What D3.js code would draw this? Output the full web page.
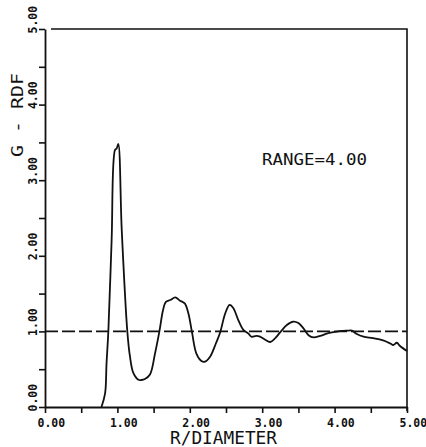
<!DOCTYPE html>
<html lang="en">
<head>
<meta charset="UTF-8">
<title>G - RDF</title>
<script src="https://d3js.org/d3.v7.min.js"></script>
<style>
  body { margin: 0; background: #fff; }
  text { font-family: "DejaVu Sans Mono", monospace; font-weight: bold; fill: #111; }
</style>
</head>
<body>
<div id="chart"></div>
<script>
// radial distribution function
const rValues = [0.78, 0.83, 0.85, 0.875, 0.92, 0.967, 0.99, 1.012, 1.06, 1.137, 1.174, 1.22, 1.29, 1.33, 1.38, 1.45,
  1.52, 1.58, 1.63, 1.67, 1.73, 1.80, 1.86, 1.93, 1.98, 2.03, 2.09, 2.16, 2.21, 2.28, 2.36, 2.42, 2.49, 2.55, 2.60,
  2.67, 2.74, 2.81, 2.85, 2.92, 2.97, 3.04, 3.11, 3.18, 3.25, 3.34, 3.43, 3.50, 3.57, 3.64, 3.71, 3.80, 3.89, 3.98,
  4.07, 4.17, 4.24, 4.30, 4.40, 4.53, 4.67, 4.77, 4.81, 4.86, 4.90, 5.00];
const gValues = [0.00, 0.18, 0.58, 1.00, 2.20, 3.40, 3.42, 3.48, 2.34, 1.00, 0.665, 0.45, 0.36, 0.357, 0.37, 0.43,
  0.71, 1.00, 1.28, 1.39, 1.415, 1.45, 1.41, 1.37, 1.24, 0.99, 0.71, 0.61, 0.60, 0.665, 0.84, 0.99, 1.24, 1.35, 1.31,
  1.15, 1.02, 0.97, 0.93, 0.94, 0.93, 0.89, 0.86, 0.91, 0.99, 1.085, 1.13, 1.11, 1.04, 0.95, 0.92, 0.94, 0.97, 0.99,
  1.005, 1.01, 1.01, 0.97, 0.93, 0.91, 0.88, 0.84, 0.82, 0.85, 0.81, 0.74];
const xTicks = [0, 0.5, 1, 1.5, 2, 2.5, 3, 3.5, 4, 4.5, 5];
const yTicks = [0, 0.5, 1, 1.5, 2, 2.5, 3, 3.5, 4, 4.5, 5];
const xTitle = "R/DIAMETER";
const yTitle = "G - RDF";
const note = "RANGE=4.00";
const reference = 1.0;

const W = 426, H = 447;
const svg = d3.select("#chart").append("svg")
  .attr("width", W).attr("height", H);

const x = d3.scaleLinear().domain([0, 5]).range([45, 407]);
const y = d3.scaleLinear().domain([0, 5]).range([407, 29]);

// frame (top and right)
svg.append("path")
  .attr("d", `M${x(0) + 6},${y(5)} H${x(5)} V${y(0) + 4}`)
  .attr("fill", "none").attr("stroke", "#111").attr("stroke-width", 1.6);

// x axis
const xAxis = svg.append("g")
  .attr("transform", `translate(0,${y(0)})`)
  .call(d3.axisBottom(x).tickValues(xTicks).tickSize(6).tickSizeOuter(0)
    .tickFormat(d => Number.isInteger(d) ? d.toFixed(2) : ""));
xAxis.select(".domain").attr("stroke", "#111").attr("stroke-width", 1.8);
xAxis.selectAll(".tick line").attr("stroke", "#111").attr("stroke-width", 1.6);
xAxis.selectAll(".tick text")
  .attr("text-anchor", "start").attr("dx", -8).attr("y", 20).attr("dy", 0)
  .style("font-size", "11.5px");

// y axis
const yAxis = svg.append("g")
  .attr("transform", `translate(${x(0)},0)`)
  .call(d3.axisLeft(y).tickValues(yTicks).tickSize(6).tickSizeOuter(0)
    .tickFormat(d => Number.isInteger(d) ? d.toFixed(2) : ""));
yAxis.select(".domain").attr("stroke", "#111").attr("stroke-width", 1.8);
yAxis.selectAll(".tick line").attr("stroke", "#111").attr("stroke-width", 1.6);
yAxis.selectAll(".tick text")
  .attr("text-anchor", "start").attr("x", 0).attr("y", 0).attr("dy", 0)
  .attr("transform", "translate(-8,4) rotate(-90)")
  .style("font-size", "11.5px");

// reference line at g = 1
svg.append("line")
  .attr("x1", x(0)).attr("x2", x(5))
  .attr("y1", y(reference)).attr("y2", y(reference))
  .attr("stroke", "#111").attr("stroke-width", 1.6)
  .attr("stroke-dasharray", "13,4");

// curve
const points = rValues.map((r, i) => [r, gValues[i]]);
svg.append("path")
  .datum(points)
  .attr("fill", "none").attr("stroke", "#111").attr("stroke-width", 1.8)
  .attr("d", d3.line().x(d => x(d[0])).y(d => y(d[1])).curve(d3.curveCatmullRom.alpha(0.5)));

// titles
svg.append("text")
  .attr("x", 170).attr("y", 444)
  .attr("textLength", 107).attr("lengthAdjust", "spacingAndGlyphs")
  .style("font-size", "17.5px").style("font-weight", "normal")
  .text(xTitle);

svg.append("text")
  .attr("transform", "translate(23,157) rotate(-90)")
  .attr("textLength", 84).attr("lengthAdjust", "spacingAndGlyphs")
  .style("font-size", "15px").style("font-weight", "normal")
  .text(yTitle);

svg.append("text")
  .attr("x", 262).attr("y", 165)
  .attr("textLength", 105).attr("lengthAdjust", "spacingAndGlyphs")
  .style("font-size", "15px").style("font-weight", "normal")
  .text(note);
</script>
</body>
</html>
